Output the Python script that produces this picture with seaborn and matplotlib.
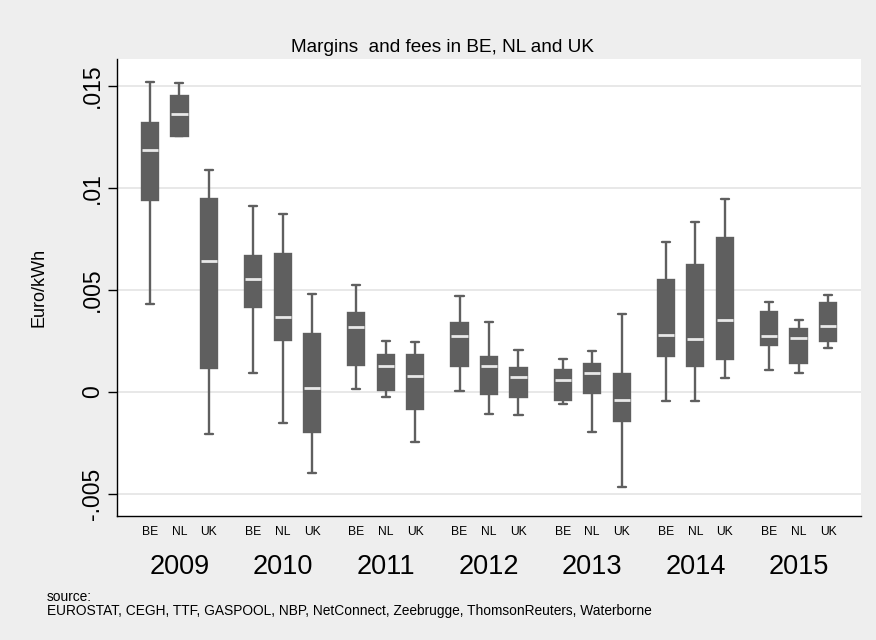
"""
Margins and fees in BE, NL and UK -- box plots per year and country.
"""

import numpy as np
import pandas as pd
import matplotlib
matplotlib.use("Agg")
import matplotlib.pyplot as plt
import seaborn as sns

sns.set_theme(style="white")
plt.rcParams["font.family"] = ["Liberation Sans", "DejaVu Sans"]

years = ["2009", "2010", "2011", "2012", "2013", "2014", "2015"]
countries = ["BE", "NL", "UK"]

# five-number summaries, ordered year by year as BE, NL, UK
whisker_low = [0.00431, 0.01255, -0.00204,
               0.00095, -0.00154, -0.00399,
               0.00013, -0.00025, -0.00245,
               0.00003, -0.00109, -0.00114,
               -0.00057, -0.00196, -0.00466,
               -0.00044, -0.00044, 0.00067,
               0.00108, 0.00092, 0.00216]
q1 = [0.00940, 0.01255, 0.00118,
      0.00417, 0.00255, -0.00198,
      0.00131, 0.00008, -0.00083,
      0.00126, -0.00008, -0.00025,
      -0.00041, -0.00003, -0.00141,
      0.00178, 0.00129, 0.00160,
      0.00230, 0.00142, 0.00252]
median = [0.01186, 0.01364, 0.00642,
          0.00552, 0.00368, 0.00021,
          0.00317, 0.00127, 0.00077,
          0.00275, 0.00126, 0.00075,
          0.00057, 0.00095, -0.00041,
          0.00279, 0.00258, 0.00353,
          0.00275, 0.00263, 0.00322]
q3 = [0.01317, 0.01452, 0.00946,
      0.00665, 0.00675, 0.00284,
      0.00386, 0.00183, 0.00180,
      0.00340, 0.00173, 0.00119,
      0.00106, 0.00136, 0.00087,
      0.00549, 0.00623, 0.00753,
      0.00391, 0.00310, 0.00435]
whisker_high = [0.01521, 0.01516, 0.01088,
                0.00912, 0.00871, 0.00479,
                0.00523, 0.00248, 0.00244,
                0.00471, 0.00342, 0.00206,
                0.00160, 0.00201, 0.00381,
                0.00735, 0.00832, 0.00946,
                0.00443, 0.00351, 0.00475]

ytick_values = [-0.005, 0, 0.005, 0.01, 0.015]
ytick_labels = ["-.005", "0", ".005", ".01", ".015"]

source_text = ("source:\nEUROSTAT, CEGH, TTF, GASPOOL, NBP, NetConnect, "
               "Zeebrugge, ThomsonReuters, Waterborne")

# long form: one row per summary value, so quartiles come out exactly
rows = []
for k, (lo, a, m, b, hi) in enumerate(zip(whisker_low, q1, median, q3, whisker_high)):
    year = years[k // 3]
    country = countries[k % 3]
    for v in (lo, a, m, b, hi):
        rows.append({"year": year, "country": country, "value": v})
df = pd.DataFrame(rows)

BG = "#eeeeee"
BOX = "#5f5f5f"
width = 0.857

fig = plt.figure(figsize=(8.76, 6.4), dpi=100, facecolor=BG)
ax = fig.add_axes([117 / 876, 1 - 516 / 640, 744 / 876, 457 / 640])
ax.set_facecolor("white")

sns.boxplot(
    data=df, x="year", y="value", hue="country",
    order=years, hue_order=countries,
    palette=[BOX] * 3, linecolor=BOX, linewidth=1.7,
    width=width, gap=0.45, whis=(0, 100), showfliers=False,
    medianprops={"color": "#e8e8e8", "linewidth": 2.0},
    legend=False, ax=ax, zorder=3,
)

ax.set_ylim(-0.00608, 0.01632)
ax.set_xlim(-0.605, len(years) - 1 + 0.605)
ax.set_yticks(ytick_values)
ax.set_yticklabels(ytick_labels)
ax.yaxis.grid(True, color="#e6e6e6", linewidth=1.3)
ax.set_axisbelow(True)

# years as major ticks, countries as minor ticks under each box
ax.xaxis.remove_overlapping_locs = False
ax.set_xticks(range(len(years)))
ax.set_xticklabels(years)
minor_pos = [i + (j - 1) * width / 3 for i in range(len(years)) for j in range(3)]
ax.set_xticks(minor_pos, minor=True)
ax.set_xticklabels(countries * len(years), minor=True)
ax.tick_params(axis="x", which="major", length=0, pad=27, labelsize=19.5, colors="black")
ax.tick_params(axis="x", which="minor", length=0, pad=7, labelsize=8.7, colors="black")
ax.tick_params(axis="y", length=6.5, width=1, direction="out", left=True,
               pad=3, labelsize=16.5, labelrotation=90, colors="black")
for lab in ax.get_yticklabels():
    lab.set_va("center")

ax.set_xlabel("")
ax.set_ylabel("Euro/kWh", fontsize=13, labelpad=24, color="black")

for side in ["top", "right"]:
    ax.spines[side].set_visible(False)
for side in ["left", "bottom"]:
    ax.spines[side].set_color("black")
    ax.spines[side].set_linewidth(1)

fig.text(442 / 876, 1 - 52 / 640, "Margins  and fees in BE, NL and UK",
         ha="center", va="baseline", fontsize=13.7, color="black")
fig.text(47 / 876, 1 - 615 / 640, source_text, ha="left", va="baseline",
         fontsize=9.9, color="black", linespacing=1.0)

fig.savefig("out.png", dpi=100, facecolor=BG)
